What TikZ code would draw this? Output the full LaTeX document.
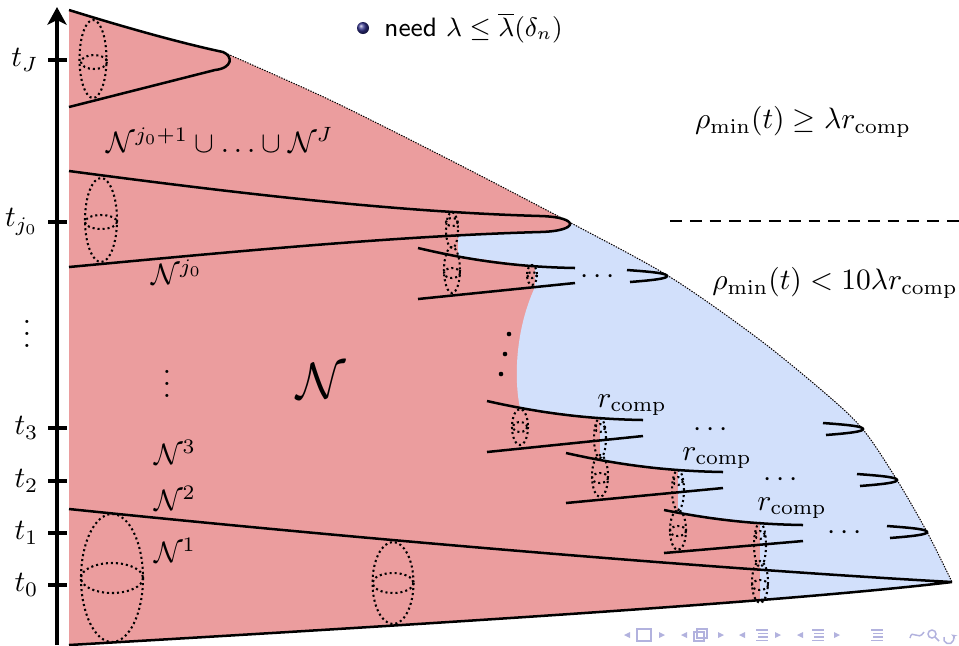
\documentclass[tikz,border=0pt]{standalone}
\usepackage{amsmath,amssymb}
\usetikzlibrary{arrows.meta}
\definecolor{neckred}{RGB}{235,157,158}
\definecolor{capblue}{RGB}{210,224,251}
\definecolor{navblue}{RGB}{178,178,222}
\definecolor{ballblue}{RGB}{50,50,140}
\tikzset{
  neckline/.style={line width=0.85pt},
  xsec/.style={line width=0.7pt, densely dotted},
  outline/.style={line width=0.35pt, dash pattern=on 0.45pt off 0.45pt},
  axisline/.style={line width=1.1pt},
  dashline/.style={line width=0.6pt, dash pattern=on 4pt off 2.7pt},
  navsym/.style={navblue, line width=0.5pt},
  tlabel/.style={anchor=east, inner sep=1pt}
}

\begin{document}
\begin{tikzpicture}[x=0.0119cm, y=-0.0119cm]
  \useasboundingbox (0,0) rectangle (959,645);

  % red and blue regions
  \begin{scope}
    \clip (69,10) .. controls (140,32) and (190,45) .. (223,52)
      -- plot[smooth] coordinates {(223,52) (330,100) (450,160) (571,223) (670,277) (760,340) (833,400) (865,432) (897,480) (927,532) (952,582)}
      .. controls (800,600) and (500,620) .. (69,645) -- cycle;
    \fill[neckred] (0,0) rectangle (959,645);
    \fill[capblue] (540,232) .. controls (560,231.5) and (572,228) .. (580,215) -- (959,215) -- (959,645) -- (760,645)
      -- (760,523) -- (678,513) -- (678,470) -- (600,460) -- (600,418) -- (520,408)
      .. controls (514,380) and (515,330) .. (535,287) -- (535,266) -- (458,256) -- (458,235) -- cycle;
  \end{scope}
  \draw[outline] plot[smooth] coordinates {(223,52) (330,100) (450,160) (571,223) (670,277) (760,340) (833,400) (865,432) (897,480) (927,532) (952,582)};

  % necks
  \draw[neckline] (69,10) .. controls (140,32) and (190,45) .. (223,52) .. controls (233,56) and (233,68) .. (215,70) -- (69,107);
  \draw[neckline] (69,171) .. controls (250,195) and (400,212) .. (540,216) .. controls (580,217) and (580,231) .. (540,232) .. controls (400,236) and (250,250) .. (69,267);
  \draw[neckline] (69,509) .. controls (350,538) and (700,568) .. (952,582) .. controls (800,600) and (500,620) .. (69,645);
  \foreach \x/\y/\w/\d/\a/\b in {418/248/157/20/51/35, 487/401/156/19/51/35, 566/453/157/19/50/35, 664/510/139/15/43/31} {
    \draw[neckline] (\x,\y) .. controls (\x+0.35*\w,\y+0.65*\d) and (\x+0.65*\w,\y+0.95*\d) .. (\x+\w,\y+\d);
    \draw[neckline] (\x,\y+\a) -- (\x+\w,\y+\b);
  }
  \foreach \x/\y in {667/276, 863/429, 897/480, 927/532}
    \draw[neckline] (\x-40,\y-6) .. controls (\x-12,\y-4) and (\x,\y-2.5) .. (\x,\y) .. controls (\x,\y+2.5) and (\x-12,\y+4) .. (\x-37,\y+6);

  % cross sections
  \foreach \x/\y/\rx/\ry in {93/59/13.5/39, 94/62/13/7, 101/220/16/42, 101/222/16/7,
      452/230/6/18, 452/222/6/4, 452/270/8/23, 452/273/8/5, 532/275/5/10, 532/275/5/3,
      520/427/8/18, 520/427/7/5, 600/438/6/20, 600/428/5/4, 600/476/8/21, 600/478/8/5,
      678/490/6/20, 678/481/5/4, 678/530/8/20, 678/531/8/5,
      760/545/6/22, 760/535/5/4, 760/582/8/21, 760/585/8/5,
      112/578/31/64, 112/578/31/15, 393/583/20.5/41, 393/583/20.5/10}
    \draw[xsec] (\x,\y) ellipse [x radius=\rx, y radius=\ry];

  % dots between necks
  \foreach \x/\y in {509/334, 505/354, 501/374}
    \fill (\x,\y) circle [radius=2.3];

  % labels
  \node (nupper) at (220,140) {$\mathcal{N}^{j_0+1}\cup\ldots\cup\mathcal{N}^{J}$};
  \node (nj0) at (177,272) {$\mathcal{N}^{j_0}$};
  \node (nvdots) at (167,375) {$\vdots$};
  \node (nall) at (321,381) {\LARGE$\mathcal{N}$};
  \node (n3) at (175,452) {$\mathcal{N}^3$};
  \node (n2) at (175,498) {$\mathcal{N}^2$};
  \node (n1) at (175,550) {$\mathcal{N}^1$};
  \foreach \x/\y in {632/405, 717/458, 792/508}
    \node at (\x,\y) {$r_{\mathrm{comp}}$};
  \foreach \x/\y in {600/277, 713/430, 783/480, 847/533}
    \node at (\x,\y) {$\cdots$};
  \node (rhoup) at (803,122) {$\rho_{\min}(t)\geq\lambda r_{\mathrm{comp}}$};
  \node (rholow) at (835,283) {$\rho_{\min}(t)<10\lambda r_{\mathrm{comp}}$};
  \draw[dashline] (670,221) -- (959,221);

  % time axis
  \draw[axisline, -{Stealth[length=6pt, width=6.5pt, inset=1.6pt]}] (57,645) -- (57,7);
  \foreach \y/\t in {60/J, 222/{j_0}, 428/3, 481/2, 533/1, 585/0} {
    \draw[axisline] (48,\y) -- (67,\y);
    \node[tlabel] at (42,\y) {$t_{\t}$};
  }
  \node (avdots) at (27,325) {$\vdots$};

  % bullet
  \shade[ball color=ballblue] (363,28) circle [radius=6];
  \node[anchor=west, font=\small] (need) at (374,28) {\sffamily need $\lambda\leq\overline{\lambda}(\delta_n)$};

  % navigation symbols
  \begin{scope}[navsym]
    \foreach \x in {627, 684, 742, 800}
      \fill (\x+3,632) -- (\x-3,635) -- (\x+3,638) -- cycle;
    \foreach \x in {662, 721, 778, 837}
      \fill (\x-3,632) -- (\x+3,635) -- (\x-3,638) -- cycle;
    \draw (637,629) rectangle (651,641);
    \draw (694,632) rectangle (704,641);
    \draw (697,629) rectangle (707,638);
    \foreach \x in {762, 818, 877} {
      \draw (\x-6,630) -- (\x+6,630);
      \draw (\x-4,633.5) -- (\x+6,633.5);
      \draw (\x-4,637) -- (\x+6,637);
      \draw (\x-6,640.5) -- (\x+6,640.5);
    }
    \draw (910,638) .. controls (912,628) and (918,642) .. (924,632);
    \draw (932,634) circle [radius=4];
    \draw (935,637) -- (939,641);
    \draw[-{Stealth[length=2pt]}] (944,637) arc [start angle=200, end angle=-60, radius=5];
  \end{scope}
\end{tikzpicture}
\end{document}
